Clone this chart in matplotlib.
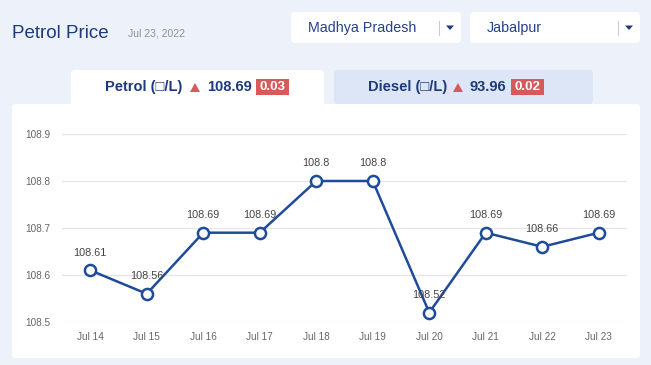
import matplotlib
matplotlib.use("Agg")
import matplotlib.pyplot as plt
from matplotlib.patches import FancyBboxPatch, Rectangle, Polygon

plt.rcParams["font.family"] = ["Liberation Sans", "DejaVu Sans"]

# ─── Data ────────────────────────────────────────────────────────────────────
dates  = ["Jul 14", "Jul 15", "Jul 16", "Jul 17", "Jul 18",
          "Jul 19", "Jul 20", "Jul 21", "Jul 22", "Jul 23"]
prices = [108.61, 108.56, 108.69, 108.69, 108.8,
          108.8, 108.52, 108.69, 108.66, 108.69]
yticks = [108.5, 108.6, 108.7, 108.8, 108.9]

# ─── Colours ─────────────────────────────────────────────────────────────────
BG        = "#EDF1F9"
NAVY      = "#1E3A7B"
LINE_BLUE = "#1F4B9B"
RED       = "#D65A5A"
TAB_BLUE  = "#DCE6F7"

W, H = 651, 365
fig = plt.figure(figsize=(W / 100, H / 100), dpi=100, facecolor=BG)

# background layer in pixel coordinates
bg = fig.add_axes([0, 0, 1, 1])
bg.set_xlim(0, W)
bg.set_ylim(H, 0)
bg.axis("off")

def box(x0, y0, x1, y1, color, r=4):
    bg.add_patch(FancyBboxPatch((x0, y0), x1 - x0, y1 - y0,
                                boxstyle=f"round,pad=0,rounding_size={r}",
                                fc=color, ec="none"))

# header
bg.text(12, 33, "Petrol Price", fontsize=13.5, color=NAVY, va="center")
bg.text(128, 33, "Jul 23, 2022", fontsize=7.5, color="#8A8F9C", va="center")

# dropdowns
for x0, x1, label in [(291, 461, "Madhya Pradesh"), (470, 640, "Jabalpur")]:
    box(x0, 12, x1, 43, "white")
    bg.text(x0 + 17, 28, label, fontsize=10.3, color="#24418A", va="center")
    bg.plot([x1 - 22, x1 - 22], [21, 35], color="#C8CCD6", lw=0.8)
    bg.add_patch(Polygon([(x1 - 15, 25.5), (x1 - 7, 25.5), (x1 - 11, 30)],
                         closed=True, fc=NAVY, ec="none"))

# tabs
box(71, 70, 324, 112, "white")
box(334, 70, 593, 104, TAB_BLUE)

def tab(x_name, name, x_tri, x_price, price, x_badge, delta):
    bg.text(x_name, 87, f"{name} (\u25a1/L)", fontsize=10.5, fontweight="bold",
            color=NAVY, va="center")
    bg.add_patch(Polygon([(x_tri, 92), (x_tri + 10, 92), (x_tri + 5, 83)],
                         closed=True, fc=RED, ec="none"))
    bg.text(x_price, 87, price, fontsize=10.5, fontweight="bold",
            color=NAVY, va="center")
    bg.add_patch(Rectangle((x_badge, 79), 33, 16, fc=RED, ec="none"))
    bg.text(x_badge + 16.5, 87.5, delta, fontsize=9.5, fontweight="bold",
            color="white", va="center", ha="center")

tab(105, "Petrol", 190, 207, "108.69", 256, "0.03")
tab(368, "Diesel", 453, 469, "93.96", 511, "0.02")

# chart card
box(12, 104, 640, 358, "white", r=3)

# ─── Chart ───────────────────────────────────────────────────────────────────
ax = fig.add_axes([62 / W, (H - 322) / H, 565 / W, 188 / H])
ax.set_facecolor("none")
x = list(range(len(dates)))
ax.plot(x, prices, "-o", color=LINE_BLUE, lw=1.8, ms=8,
        mfc="white", mec=LINE_BLUE, mew=1.8, zorder=3, clip_on=False)
for xi, p in zip(x, prices):
    ax.annotate(f"{p:g}", (xi, p), xytext=(0, 9), textcoords="offset points",
                ha="center", va="bottom", fontsize=7.8, color="#444444")

ax.set_xlim(-0.5, len(dates) - 0.5)
ax.set_ylim(108.5, 108.9)
ax.set_xticks(x)
ax.set_xticklabels(dates)
ax.set_yticks(yticks)
ax.set_yticklabels([f"{v:.1f}" for v in yticks])
ax.tick_params(axis="both", length=0, labelsize=7.2, labelcolor="#666666")
ax.tick_params(axis="x", pad=7.5)
ax.tick_params(axis="y", pad=8.6)
ax.grid(axis="y", color="#E3E5EA", lw=0.9)
ax.set_axisbelow(True)
for s in ax.spines.values():
    s.set_visible(False)

fig.savefig("out.png", dpi=100, facecolor=BG)
